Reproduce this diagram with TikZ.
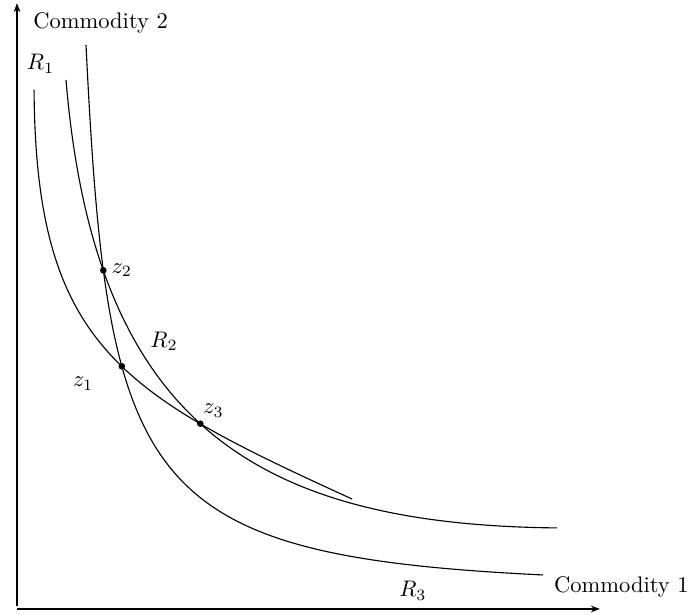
\documentclass[tikz,border=0pt]{standalone}
\usetikzlibrary{arrows.meta, intersections}

\begin{document}
\begin{tikzpicture}[scale=1.05,
    axis/.style={-{Stealth[length=4pt]}, line width=0.5pt},
    curve/.style={line width=0.5pt},
    lbl/.style={inner sep=0pt},
  ]
  \useasboundingbox (-0.253,-0.089) rectangle (10.015,9.049);

  \coordinate (o) at (0,0);
  \coordinate (ybot) at (0,0.05);
  \coordinate (ytop) at (0,9.0);
  \coordinate (xend) at (8.66,0);

  \draw[axis] (ybot) -- (ytop);
  \draw[axis] (o) -- (xend);

  \node[lbl] (c2) at (1.241,8.716) {Commodity 2};
  \node[lbl] (c1) at (8.98,0.321) {Commodity 1};

  % the three curves
  \draw[curve, name path=r1] (0.253,7.712) .. controls (0.28,3.9) and (1.55,3.2) .. (4.978,1.634);
  \draw[curve, name path=r2] (0.728,7.860) .. controls (1.15,2.8) and (3.5,1.25) .. (8.024,1.204);
  \draw[curve, name path=r3] (1.025,8.380) .. controls (1.35,1.8) and (1.8,0.8) .. (7.816,0.505);

  % meeting points
  \path[name intersections={of=r1 and r3, by=z1}];
  \path[name intersections={of=r2 and r3, by=z2}];
  \path[name intersections={of=r1 and r2, by=z3}];
  \foreach \p in {z1,z2,z3}
    \fill (\p) circle (1.4pt);

  \node[lbl] (r1lbl) at (0.349,8.098) {$R_1$};
  \node[lbl] (r2lbl) at (2.184,3.976) {$R_2$};
  \node[lbl] (r3lbl) at (5.884,0.272) {$R_3$};
  \node[lbl] (z1lbl) at (0.981,3.346) {$z_1$};
  \node[lbl] (z2lbl) at (1.557,5.036) {$z_2$};
  \node[lbl] (z3lbl) at (2.920,2.945) {$z_3$};
\end{tikzpicture}
\end{document}
